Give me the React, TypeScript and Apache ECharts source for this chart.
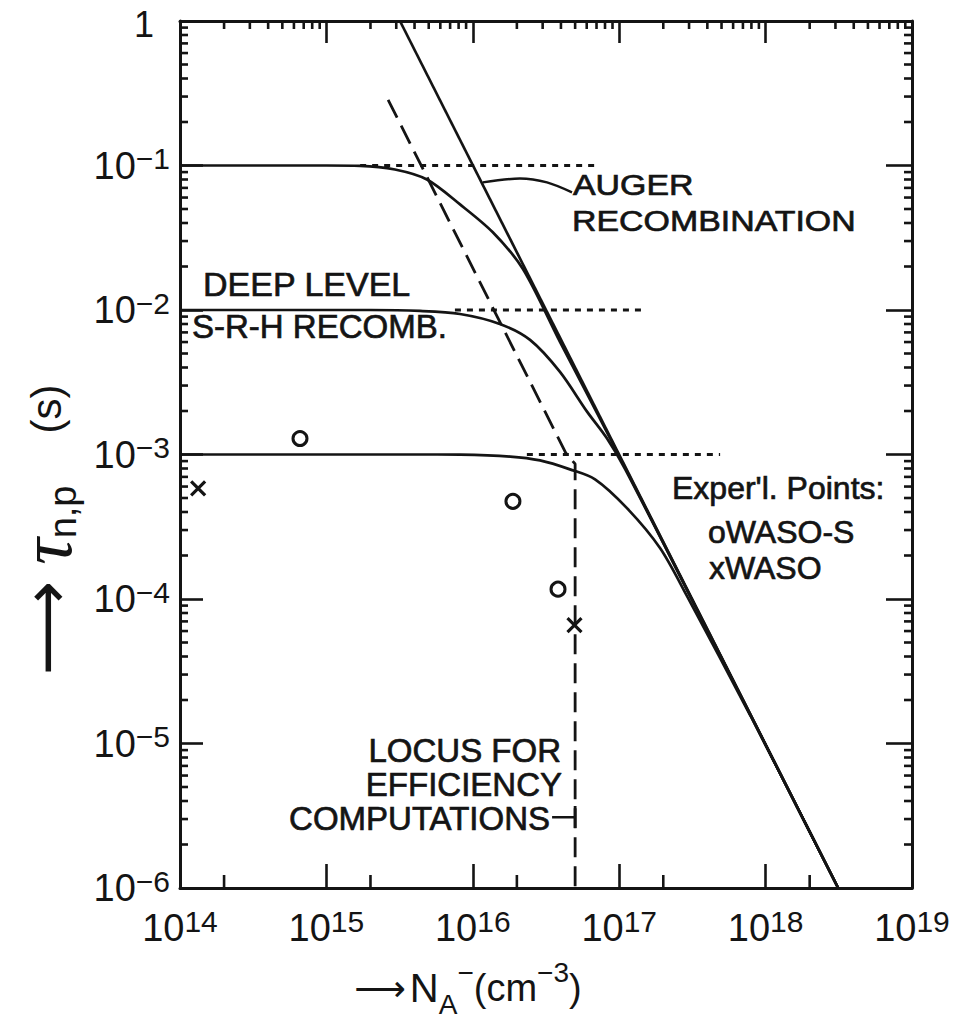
import React, { useEffect, useRef } from "react";
import * as echarts from "echarts";

const FONT = "'Liberation Sans', Arial, sans-serif";
const INK = "#141414";

const X_MIN = 1e14;
const X_MAX = 1e19;
const Y_MIN = 1e-6;
const Y_MAX = 1;

// tick positions
const xDecades = [1e14, 1e15, 1e16, 1e17, 1e18];
const yDecades = [1e-6, 1e-5, 1e-4, 1e-3, 1e-2, 1e-1];
const minorSteps = [2, 3, 4, 5, 6, 7, 8, 9];
const bottomMinorTicks = [2e14, 2e15, 2e16, 2e17, 2e18];

// curves [N_A (cm^-3), tau (s)]
const augerLine = [
  [3.18e15, 1],
  [3.13e18, 1e-6],
];
const srhLevel1Curve = [
  [1e14, 0.1],
  [1.0e15, 0.1],
  [1.7e15, 0.0995],
  [2.94e15, 0.0938],
  [4.86e15, 0.08],
  [8.18e15, 0.0538],
  [1.37e16, 0.0345],
  [2.2e16, 0.0192],
  [3.98e16, 5.9e-3],
  [1.0e17, 9.8e-4],
  [3.16e17, 9.8e-5],
  [1.0e18, 9.8e-6],
  [3.13e18, 1e-6],
];
const srhLevel2Curve = [
  [1e14, 0.01],
  [2.0e15, 0.01],
  [4.36e15, 9.85e-3],
  [8.18e15, 9.38e-3],
  [1.53e16, 8.0e-3],
  [2.46e16, 6.21e-3],
  [3.94e16, 3.73e-3],
  [6.03e16, 1.98e-3],
  [8.26e16, 1.29e-3],
  [1.1e17, 7.89e-4],
  [3.16e17, 9.8e-5],
  [1.0e18, 9.8e-6],
  [3.13e18, 1e-6],
];
const srhLevel3Curve = [
  [1e14, 1e-3],
  [4.0e15, 1e-3],
  [8.18e15, 9.97e-4],
  [1.8e16, 9.68e-4],
  [2.88e16, 9.1e-4],
  [4.61e16, 7.89e-4],
  [6.84e16, 6.73e-4],
  [1.13e17, 4.25e-4],
  [1.9e17, 2.25e-4],
  [2.9e17, 1.05e-4],
  [7.9e17, 1.55e-5],
  [1.5e18, 4.35e-6],
  [3.13e18, 1e-6],
];
// S-R-H only levels (dotted)
const srhDotted1 = [
  [1.7e15, 0.1],
  [7.16e16, 0.1],
];
const srhDotted2 = [
  [7.55e15, 0.01],
  [1.43e17, 0.01],
];
const srhDotted3 = [
  [2.34e16, 1e-3],
  [4.89e17, 1e-3],
];
// locus for efficiency computations (long dashes)
const locusLine = [
  [2.64e15, 0.285],
  [4.33e16, 1.02e-3],
  [5.0e16, 8.6e-4],
  [5.0e16, 1e-6],
];
const computationsLeader = [
  [3.48e16, 3.09e-6],
  [5.0e16, 3.09e-6],
];
const computationsTick = [
  [5.0e16, 3.7e-6],
  [5.0e16, 2.6e-6],
];
const augerLeader = [
  [1.17e16, 0.0764],
  [2.1e16, 0.0813],
  [3.21e16, 0.0764],
  [4.76e16, 0.0652],
];
// experimental points
const wasoSPoints = [
  [6.6e14, 1.29e-3],
  [1.88e16, 4.74e-4],
  [3.82e16, 1.17e-4],
];
const wasoPoints = [
  [1.33e14, 5.83e-4],
  [4.95e16, 6.6e-5],
];

const labelRich = {
  b: { fontFamily: FONT, fontSize: 38, lineHeight: 44, color: INK },
  e: { fontFamily: FONT, fontSize: 30, lineHeight: 16, verticalAlign: "top", color: INK },
  xe: { fontFamily: FONT, fontSize: 30, lineHeight: 20, verticalAlign: "top", color: INK },
  one: { fontFamily: FONT, fontSize: 36, lineHeight: 36, color: INK, padding: [6, 16, 0, 0] },
};

function expOf(v: number) {
  return Math.round(Math.log10(v));
}

function tickSeries(data: number[][], side: string, len: number) {
  return {
    type: "custom",
    silent: true,
    clip: false,
    z: 6,
    data,
    renderItem: (_params: any, api: any) => {
      const p = api.coord([api.value(0), api.value(1)]);
      let x2 = p[0];
      let y2 = p[1];
      if (side === "bottom") y2 -= len;
      else if (side === "top") y2 += len;
      else if (side === "left") x2 += len;
      else x2 -= len;
      return {
        type: "line",
        shape: { x1: p[0], y1: p[1], x2, y2 },
        style: { stroke: INK, lineWidth: 2.6 },
      };
    },
  };
}

function lineSeries(data: number[][], type: any, width = 2.7, smooth: any = false) {
  return {
    type: "line",
    data,
    symbol: "none",
    silent: true,
    smooth,
    lineStyle: { color: INK, width, type, cap: "butt" },
    z: 3,
  };
}

function txt(text: string, x: number, y: number, align = "left", size = 33, scaleX = 1) {
  return {
    type: "text",
    x,
    y,
    scaleX,
    silent: true,
    style: {
      text,
      fill: INK,
      stroke: INK,
      lineWidth: 0.7,
      fontFamily: FONT,
      fontSize: size,
      lineHeight: 28,
      align,
      verticalAlign: "middle",
      textAlign: align,
      textVerticalAlign: "middle",
    },
  };
}

function buildOption() {
  const topMinorTicks = xDecades.flatMap((d) => minorSteps.map((m) => m * d));
  const sideMinorTicks = yDecades.flatMap((d) => minorSteps.map((m) => m * d));

  const axisLine = { show: true, onZero: false, lineStyle: { color: INK, width: 3 } };

  return {
    animation: false,
    backgroundColor: "#ffffff",
    grid: { left: 180, right: 51, top: 18, bottom: 142 },
    xAxis: [
      {
        type: "log",
        logBase: 10,
        min: X_MIN,
        max: X_MAX,
        position: "bottom",
        axisLine,
        axisTick: { show: true, inside: true, length: 24, lineStyle: { color: INK, width: 2.6 } },
        minorTick: { show: false },
        splitLine: { show: false },
        axisLabel: {
          show: true,
          margin: 18,
          showMinLabel: true,
          showMaxLabel: true,
          formatter: (v: number) => `{b|10}{xe|${expOf(v)}}`,
          rich: labelRich,
        },
      },
      {
        type: "log",
        logBase: 10,
        min: X_MIN,
        max: X_MAX,
        position: "top",
        axisLine,
        axisTick: { show: true, inside: true, length: 22, lineStyle: { color: INK, width: 2.6 } },
        splitLine: { show: false },
        axisLabel: { show: false },
      },
    ],
    yAxis: [
      {
        type: "log",
        logBase: 10,
        min: Y_MIN,
        max: Y_MAX,
        position: "left",
        axisLine,
        axisTick: { show: true, inside: true, length: 23, lineStyle: { color: INK, width: 2.6 } },
        splitLine: { show: false },
        axisLabel: {
          show: true,
          margin: 10,
          showMinLabel: true,
          showMaxLabel: true,
          formatter: (v: number) => {
            const e = expOf(v);
            return e === 0 ? "{one|1}" : `{b|10}{e|\u2212${-e}}`;
          },
          rich: labelRich,
        },
      },
      {
        type: "log",
        logBase: 10,
        min: Y_MIN,
        max: Y_MAX,
        position: "right",
        axisLine,
        axisTick: { show: true, inside: true, length: 26, lineStyle: { color: INK, width: 2.6 } },
        splitLine: { show: false },
        axisLabel: { show: false },
      },
    ],
    series: [
      lineSeries(srhDotted1, [6, 6], 3),
      lineSeries(srhDotted2, [6, 6], 3),
      lineSeries(srhDotted3, [6, 6], 3),
      lineSeries(srhLevel1Curve, "solid", 2.7, 0.3),
      lineSeries(srhLevel2Curve, "solid", 2.7, 0.3),
      lineSeries(srhLevel3Curve, "solid", 2.7, 0.3),
      lineSeries(augerLine, "solid", 2.7),
      lineSeries(locusLine, [20, 9], 2.8),
      lineSeries(computationsLeader, "solid", 2.4),
      lineSeries(computationsTick, "solid", 2.8),
      lineSeries(augerLeader, "solid", 2.4, 0.3),
      {
        type: "scatter",
        data: wasoSPoints,
        symbol: "circle",
        symbolSize: 14,
        silent: true,
        itemStyle: { color: "rgba(0,0,0,0)", borderColor: INK, borderWidth: 3, opacity: 1 },
        z: 5,
      },
      {
        type: "scatter",
        data: wasoPoints,
        symbol: "path://M0 0L10 10M10 0L0 10",
        symbolSize: 14,
        silent: true,
        itemStyle: { color: "rgba(0,0,0,0)", borderColor: INK, borderWidth: 3.2, opacity: 1 },
        z: 5,
      },
      tickSeries(bottomMinorTicks.map((v) => [v, Y_MIN]), "bottom", 13),
      tickSeries(topMinorTicks.map((v) => [v, Y_MAX]), "top", 8),
      tickSeries(sideMinorTicks.map((v) => [X_MIN, v]), "left", 8),
      tickSeries(sideMinorTicks.map((v) => [X_MAX, v]), "right", 8),
    ],
    graphic: [
      txt("AUGER", 573, 185, "left", 30, 1.13),
      txt("RECOMBINATION", 572, 221, "left", 30, 1.13),
      txt("DEEP LEVEL", 203, 284, "left", 34),
      txt("S-R-H RECOMB.", 192, 326),
      txt("Exper'l. Points:", 672, 488, "left", 32),
      txt("oWASO-S", 708, 532, "left", 32),
      txt("xWASO", 709, 568, "left", 32),
      txt("LOCUS FOR", 561, 750, "right"),
      txt("EFFICIENCY", 562, 784, "right"),
      txt("COMPUTATIONS", 550, 818, "right"),
      {
        type: "text",
        x: 468,
        y: 988,
        silent: true,
        style: {
          text: "{a|\u27F6}{g| }{n|N}{sub|A}{sup|\u2212}{t|(cm}{sup|\u22123}{t|)}",
          align: "center",
          verticalAlign: "middle",
          textAlign: "center",
          textVerticalAlign: "middle",
          fill: INK,
          rich: {
            a: { fontFamily: "'DejaVu Sans'", fontSize: 36, lineHeight: 60, color: INK },
            g: { fontFamily: FONT, fontSize: 14, lineHeight: 60 },
            n: { fontFamily: FONT, fontSize: 40, lineHeight: 60, color: INK },
            t: { fontFamily: FONT, fontSize: 38, lineHeight: 60, color: INK },
            sub: { fontFamily: FONT, fontSize: 28, lineHeight: 24, verticalAlign: "bottom", color: INK },
            sup: { fontFamily: FONT, fontSize: 28, lineHeight: 26, verticalAlign: "top", color: INK },
          },
        },
      },
      {
        type: "text",
        x: 46,
        y: 530,
        rotation: Math.PI / 2,
        silent: true,
        style: {
          text: "{a|\u27F6}{g| }{t|\u03C4}{s|n,p}{h| }{p|(s)}",
          align: "center",
          verticalAlign: "middle",
          textAlign: "center",
          textVerticalAlign: "middle",
          fill: INK,
          rich: {
            a: { fontFamily: "'DejaVu Sans'", fontSize: 66, lineHeight: 72, color: INK },
            g: { fontFamily: FONT, fontSize: 16, lineHeight: 72, width: 16 },
            h: { fontFamily: FONT, fontSize: 16, lineHeight: 72, width: 52 },
            t: { fontFamily: "'Liberation Serif'", fontStyle: "italic", fontSize: 74, lineHeight: 72, color: INK },
            s: { fontFamily: FONT, fontSize: 38, lineHeight: 36, verticalAlign: "bottom", color: INK },
            p: { fontFamily: FONT, fontSize: 42, lineHeight: 72, color: INK },
          },
        },
      },
    ],
  };
}

export default function App() {
  const ref = useRef<HTMLDivElement>(null);
  useEffect(() => {
    if (!ref.current) return;
    const chart = echarts.init(ref.current, null, { renderer: "svg" });
    chart.setOption(buildOption() as any);
    return () => chart.dispose();
  }, []);
  return (
    <div
      ref={ref}
      style={{ position: "absolute", left: 0, top: 0, width: 963, height: 1030, background: "#fff" }}
    />
  );
}
